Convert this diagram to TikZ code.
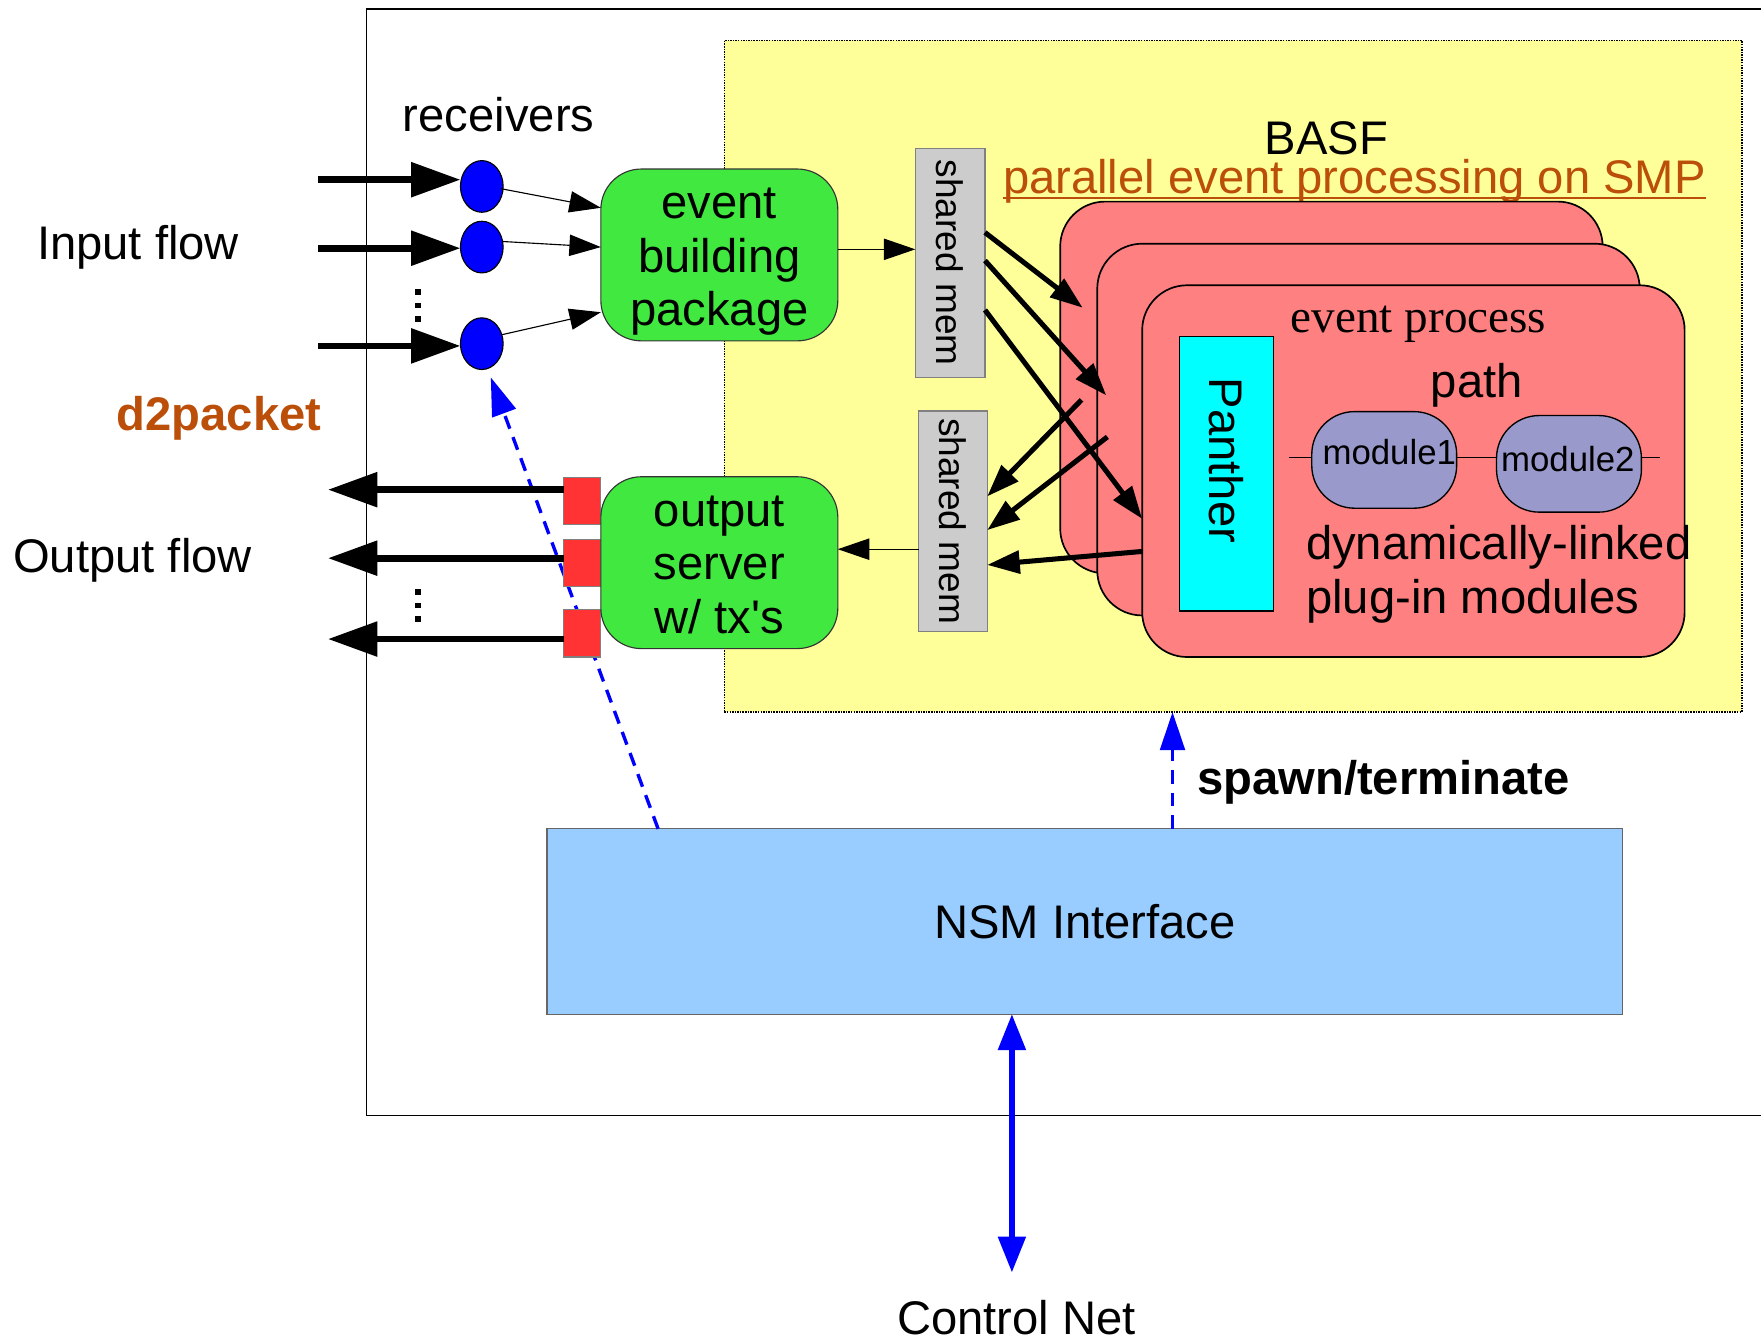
\documentclass[tikz,border=0pt]{standalone}
\usepackage{fontspec}
\setmainfont{Liberation Sans}
\newfontfamily\timesface{Liberation Serif}
\usetikzlibrary{arrows.meta,shapes.geometric}

\definecolor{paleyellow}{HTML}{FFFF99}
\definecolor{brightgreen}{HTML}{40E840}
\definecolor{salmon}{HTML}{FF8080}
\definecolor{brightred}{HTML}{FF3333}
\definecolor{memgrey}{HTML}{CCCCCC}
\definecolor{lavender}{HTML}{9999CC}
\definecolor{skyblue}{HTML}{99CCFF}
\definecolor{rust}{HTML}{BB4E08}
\definecolor{aqua}{HTML}{00FFFF}

\begin{document}
\begin{tikzpicture}[x=1pt,y=-1pt,
  every node/.style={inner sep=0pt,outer sep=0pt},
  big/.style={font=\fontsize{42}{48}\selectfont},
  label/.style={big,anchor=base},
  greenbox/.style={rectangle,rounded corners=36pt,draw=black!80,line width=1pt,
    fill=brightgreen,minimum width=211pt,minimum height=153pt},
  membox/.style={rectangle,draw=black!50,line width=1pt,fill=memgrey,rotate=-90,
    font=\fontsize{33}{40}\selectfont},
  procbox/.style={rectangle,rounded corners=40pt,draw=black,line width=1.5pt,
    fill=salmon,minimum width=483pt,minimum height=331pt},
  modbox/.style={rectangle,rounded corners=38pt,draw=black,line width=1.2pt,
    fill=lavender,minimum width=129pt,minimum height=86pt},
  rxnode/.style={ellipse,draw=black,line width=1pt,fill=blue,
    minimum width=38pt,minimum height=46pt},
  txbox/.style={rectangle,draw=black!50,line width=1pt,fill=brightred,
    minimum width=33pt,minimum height=42pt},
  fatarrow/.style={line width=6pt,-{Triangle[length=44pt,width=30pt]}},
  thinarrow/.style={line width=1pt,-{Triangle[length=28pt,width=19pt]}},
  procarrow/.style={line width=4.5pt,-{Triangle[length=29pt,width=20pt]}},
  bluedash/.style={blue,line width=3pt,dash pattern=on 12pt off 8pt,
    -{Triangle[length=34pt,width=22pt]}},
  dotmark/.style={fill=black,minimum size=5pt,rectangle}
]
\useasboundingbox (0,0) rectangle (1568,1194);

% host frame (open to the right)
\draw[line width=1pt] (1600,8) -- (326,8) -- (326,993) -- (1600,993);

% BASF area
\node[rectangle,draw=black,densely dotted,line width=1.3pt,fill=paleyellow,
  minimum width=906pt,minimum height=598pt] (basf) at (1098,335) {};
\node[label] (basfttl) at (1181,138) {BASF};
\node[label,text=rust] (smp) at (1206,172) {parallel event processing on SMP};
\draw[rust,line width=2pt] ([yshift=-4pt]smp.base west) -- ([yshift=-4pt]smp.base east);

% NSM interface and its control lines
\node[rectangle,draw=black!60,line width=1pt,fill=skyblue,
  minimum width=958pt,minimum height=165pt] (nsm) at (966,820.5) {};
\node[label] (nsmtxt) at (966,836) {NSM Interface};

\coordinate (rxdash) at (586,0);
\coordinate (rxtip) at (437,336);
\draw[bluedash] (nsm.north -| rxdash) -- (rxtip);

\coordinate (spawnx) at (1044,0);
\draw[bluedash] (nsm.north -| spawnx) -- (basf.south -| spawnx);
\node[label,anchor=base west,font=\fontsize{42}{48}\selectfont\bfseries] (spawn) at (1066,707) {spawn/terminate};

\coordinate (cnet) at (901,1133);
\draw[blue,line width=5pt,{Triangle[length=32pt,width=24pt]}-{Triangle[length=32pt,width=24pt]}]
  (cnet |- nsm.south) -- (cnet);
\node[label] (cnettxt) at (905,1188) {Control Net};

% receivers and input side
\node[label] (rxttl) at (444,117) {receivers};
\node[label] (inflow) at (123,231) {Input flow};
\node[label,font=\fontsize{42}{48}\selectfont\bfseries,text=rust] (d2p) at (195,383) {d2packet};

\node[rxnode] (rx1) at (429,166) {};
\node[rxnode] (rx2) at (429,220) {};
\node[rxnode] (rx3) at (429,306) {};

\coordinate (in1) at (283,160);
\coordinate (in2) at (283,221);
\coordinate (in3) at (283,308);
\draw[fatarrow] (in1) -- (in1 -| rx1.west);
\draw[fatarrow] (in2) -- (in2 -| rx2.west);
\draw[fatarrow] (in3) -- (in3 -| rx3.west);

\node[dotmark] (idot1) at (372,260) {};
\node[dotmark] (idot2) at (372,272) {};
\node[dotmark] (idot3) at (372,284) {};

\node[greenbox] (ebp) at (640.5,227) {};
\node[big,align=center] (ebptxt) at (640.5,233) {event\\building\\package};

\draw[thinarrow] ([xshift=-2pt,yshift=-2pt]rx1.east) -- ([yshift=42pt]ebp.west);
\draw[thinarrow] ([xshift=-1pt,yshift=5pt]rx2.east) -- ([yshift=7pt]ebp.west);
\draw[thinarrow] ([xshift=-1pt,yshift=8pt]rx3.east) -- ([yshift=-51pt]ebp.west);

% output side
\node[label] (outflow) at (118,510) {Output flow};

\node[txbox] (tx1) at (518.5,446) {};
\node[txbox] (tx2) at (518.5,501) {};
\node[txbox] (tx3) at (518.5,564) {};

\coordinate (out1) at (292,436);
\coordinate (out2) at (292,497);
\coordinate (out3) at (292,569);
\draw[fatarrow] (out1 -| tx1.west) -- (out1);
\draw[fatarrow] (out2 -| tx2.west) -- (out2);
\draw[fatarrow] (out3 -| tx3.west) -- (out3);

\node[dotmark] (odot1) at (372,527) {};
\node[dotmark] (odot2) at (372,539) {};
\node[dotmark] (odot3) at (372,551) {};

\node[greenbox] (osv) at (640.5,501) {};
\node[big,align=center] (osvtxt) at (640.5,503) {output\\server\\w/ tx\textquotesingle s};

% shared memory segments
\node[membox,minimum width=204pt,minimum height=62pt] (shm1) at (846,234) {shared mem};
\node[membox,minimum width=196pt,minimum height=61pt] (shm2) at (848.5,464) {shared mem};

\coordinate (ebpout) at (746,222);
\draw[thinarrow] (ebpout) -- (ebpout -| shm1.south);
\coordinate (osvin) at (746,489);
\draw[thinarrow] (osvin -| shm2.south) -- (osvin);

% stacked event processes
\node[procbox] (procA) at (1185.5,345) {};
\node[procbox] (procB) at (1218.5,382.5) {};
\node[procbox] (procC) at (1258.5,419.5) {};

\node[label,font=\fontsize{42}{48}\selectfont\timesface] (evproc) at (1263,296) {event process};

\node[rectangle,draw=black,line width=1pt,fill=aqua,
  minimum width=84pt,minimum height=244pt] (panther) at (1092,422) {};
\node[big,rotate=-90] (panthertxt) at (1092,410) {Panther};

\node[label] (pathttl) at (1315,354) {path};
\coordinate (pathL) at (1148,407);
\coordinate (pathR) at (1478,407);
\draw[line width=1pt] (pathL) -- (pathR);
\node[modbox] (mod1) at (1232.5,409.5) {};
\node[modbox] (mod2) at (1397,413) {};
\node[anchor=base,font=\fontsize{31}{36}\selectfont] (mod1txt) at (1237,414) {module1};
\node[anchor=base,font=\fontsize{31}{36}\selectfont] (mod2txt) at (1396,420) {module2};

\node[label,anchor=base west] (dyn1) at (1163,498) {dynamically-linked};
\node[label,anchor=base west] (dyn2) at (1163,546) {plug-in modules};

% traffic between shared memory and the processes
\coordinate (pa1) at (964,274);
\coordinate (pb1) at (985,352);
\coordinate (pc1) at (1017,462);
\coordinate (pa2) at (963,356);
\coordinate (pb2) at (986,389);
\coordinate (pc2) at (1017,491);
\draw[procarrow] (shm1.north |- 0,207) -- (pa1);
\draw[procarrow] (shm1.north |- 0,232) -- (pb1);
\draw[procarrow] (shm1.north |- 0,276) -- (pc1);
\draw[procarrow] (pa2) -- (shm2.north |- 0,442);
\draw[procarrow] (pb2) -- (shm2.north |- 0,472);
\draw[procarrow] (pc2) -- (shm2.north |- 0,503);

\end{tikzpicture}
\end{document}
